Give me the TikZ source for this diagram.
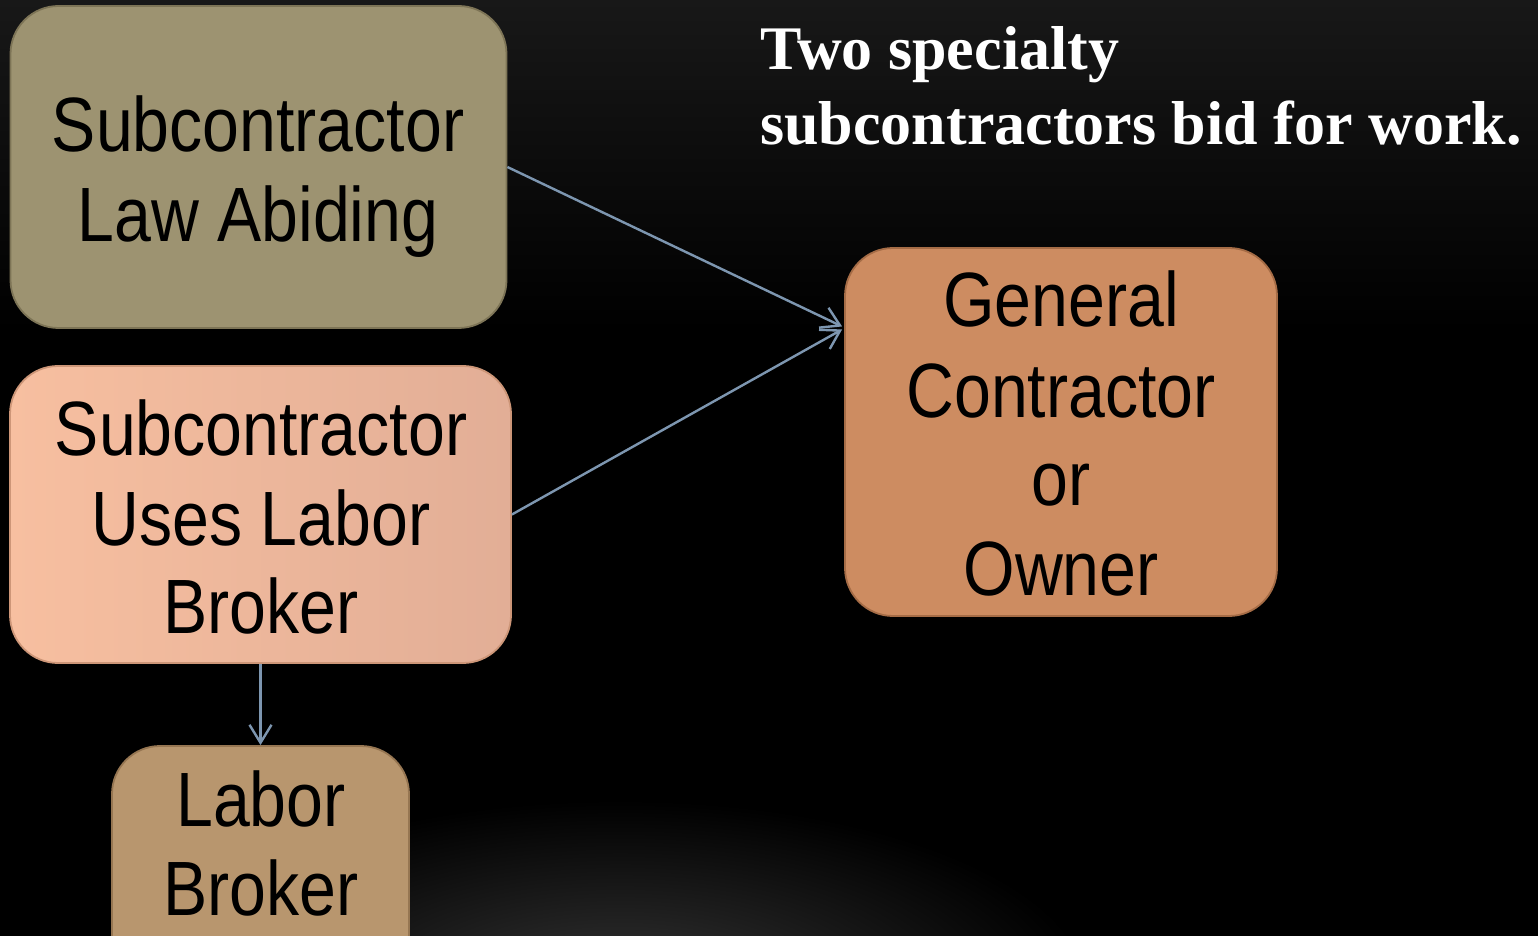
\documentclass[tikz,border=0pt]{standalone}
\usepackage{fontspec}
\setmainfont{Liberation Serif}
\newfontfamily\boxfont[FakeStretch=0.86]{Liberation Sans}
\usetikzlibrary{arrows.meta,calc}
\definecolor{olivebox}{RGB}{157,147,113}
\definecolor{olivebd}{RGB}{125,116,86}
\definecolor{peachL}{RGB}{247,191,160}
\definecolor{peachR}{RGB}{226,174,150}
\definecolor{peachbd}{RGB}{205,150,120}
\definecolor{tanbox}{RGB}{184,150,110}
\definecolor{tanbd}{RGB}{150,118,82}
\definecolor{gcbox}{RGB}{205,140,97}
\definecolor{gcbd}{RGB}{165,108,70}
\definecolor{arrowc}{RGB}{125,150,176}
\definecolor{topgray}{RGB}{24,24,24}
\definecolor{glow}{RGB}{52,52,52}
\tikzset{
  box/.style={rounded corners=24pt, line width=0.9pt, inner sep=0pt},
  boxtext/.style={font=\boxfont\fontsize{38.5}{45}\selectfont, align=center, text=black, inner sep=0pt},
  conn/.style={draw=arrowc, line width=1.2pt, -{Straight Barb[length=9pt,width=11pt,line width=1.2pt]}},
}
\begin{document}
\begin{tikzpicture}[x=0.5pt,y=-0.5pt]
\useasboundingbox (0,0) rectangle (1538,936);
\clip (0,0) rectangle (1538,936);
\fill[black] (0,0) rectangle (1538,936);
\shade[top color=topgray, bottom color=black] (0,0) rectangle (1538,330);
\shade[inner color=glow, outer color=black] (620,990) ellipse [x radius=470, y radius=190];
% boxes
\node[box, draw=olivebd, fill=olivebox, minimum width=248pt, minimum height=161pt] (b1) at (258.5,167) {};
\node[box, draw=peachbd, left color=peachL, right color=peachR, minimum width=250.5pt, minimum height=148.5pt] (b2) at (260.5,514.5) {};
\node[box, draw=tanbd, fill=tanbox, minimum width=148.5pt, minimum height=120pt] (b3) at (260.5,866) {};
\node[box, draw=gcbd, fill=gcbox, minimum width=216pt, minimum height=184pt] (b4) at (1061,432) {};
% texts
\node[boxtext, anchor=base] (t1a) at (258,152) {Subcontractor};
\node[boxtext, anchor=base] (t1b) at (258,242) {Law Abiding};
\node[boxtext, anchor=base] (t2a) at (261,455) {Subcontractor};
\node[boxtext, anchor=base] (t2b) at (261,545) {Uses Labor};
\node[boxtext, anchor=base] (t2c) at (261,633) {Broker};
\node[boxtext, anchor=base] (t3a) at (261,826) {Labor};
\node[boxtext, anchor=base] (t3b) at (261,915) {Broker};
\node[boxtext, anchor=base] (t4a) at (1061,327) {General};
\node[boxtext, anchor=base] (t4b) at (1061,417) {Contractor};
\node[boxtext, anchor=base] (t4c) at (1061,505) {or};
\node[boxtext, anchor=base] (t4d) at (1061,595) {Owner};
% title
\node[anchor=base west, inner sep=0pt, text=white, font=\bfseries\fontsize{31}{37.5}\selectfont] (title1) at (760,70) {Two specialty};
\node[anchor=base west, inner sep=0pt, text=white, font=\bfseries\fontsize{31}{37.5}\selectfont] (title2) at (760,145) {subcontractors bid for work.};
% connectors
\coordinate (gin) at ($(b4.north west)!0.22!(b4.south west)$);
\draw[conn] (b1.east) -- ($(gin)+(-2,-2)$);
\draw[conn] (b2.east) -- ($(gin)+(-2,1)$);
\draw[conn] (b2.south) -- (b3.north);
\end{tikzpicture}
\end{document}
